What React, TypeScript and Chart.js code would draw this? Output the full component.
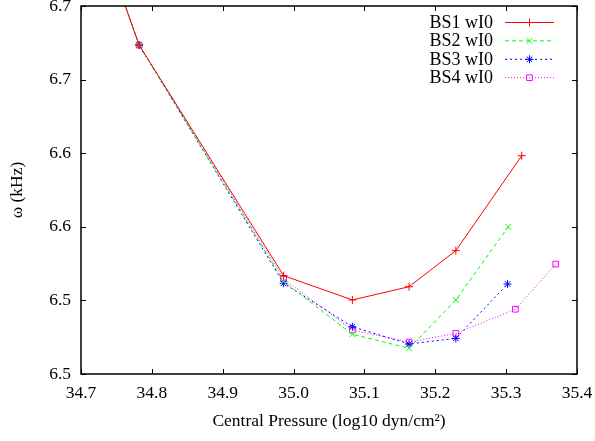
import React, { useEffect, useRef } from 'react';
import { Chart, registerables } from 'chart.js';
Chart.register(...registerables);

const seriesNames = ['BS1 wI0', 'BS2 wI0', 'BS3 wI0', 'BS4 wI0'];
const seriesColors = ['#ff0000', '#00ff00', '#0000ff', '#ff00ff'];

const bs1X = [34.75, 34.782, 34.986, 35.083, 35.163, 35.229, 35.322];
const bs1Y = [6.717, 6.6735, 6.5168, 6.5003, 6.5093, 6.5338, 6.5983];
const bs2X = [34.75, 34.782, 34.986, 35.083, 35.163, 35.229, 35.303];
const bs2Y = [6.717, 6.6735, 6.5128, 6.477, 6.4675, 6.5003, 6.550];
const bs3X = [34.75, 34.782, 34.986, 35.083, 35.163, 35.229, 35.302];
const bs3Y = [6.717, 6.6735, 6.5116, 6.4821, 6.4704, 6.4742, 6.5111];
const bs4X = [34.75, 34.782, 34.986, 35.083, 35.163, 35.229, 35.313, 35.370];
const bs4Y = [6.717, 6.6735, 6.5145, 6.4799, 6.4717, 6.4776, 6.494, 6.5247];

const xTickValues = [34.7, 34.8, 34.9, 35.0, 35.1, 35.2, 35.3, 35.4];
const xTickLabels = ['34.7', '34.8', '34.9', '35.0', '35.1', '35.2', '35.3', '35.4'];
const yTickValues = [6.45, 6.5, 6.55, 6.6, 6.65, 6.7];
const yTickLabels = ['6.5', '6.5', '6.6', '6.6', '6.7', '6.7'];

const xTitle = 'Central Pressure (log10 dyn/cm\u00B2)';
const yTitle = '\u03C9 (kHz)';

const FONT = '"Liberation Serif", "Times New Roman", serif';

const pointStyles = ['cross', 'crossRot', 'star', 'rect'];
const dashes: number[][] = [[], [4, 3], [2, 3], [1, 2]];

function toPts(xs: number[], ys: number[]) {
  return xs.map((x, i) => ({ x, y: ys[i] }));
}

function drawMarker(ctx: CanvasRenderingContext2D, style: string, x: number, y: number, r: number) {
  ctx.beginPath();
  if (style === 'cross' || style === 'star') {
    ctx.moveTo(x - r, y); ctx.lineTo(x + r, y);
    ctx.moveTo(x, y - r); ctx.lineTo(x, y + r);
  }
  if (style === 'crossRot' || style === 'star') {
    const d = r * Math.SQRT1_2;
    ctx.moveTo(x - d, y - d); ctx.lineTo(x + d, y + d);
    ctx.moveTo(x - d, y + d); ctx.lineTo(x + d, y - d);
  }
  if (style === 'rect') {
    const s = r * Math.SQRT1_2;
    ctx.rect(x - s, y - s, 2 * s, 2 * s);
  }
  ctx.stroke();
}

const framePlugin = {
  id: 'frame',
  afterDatasetsDraw(chart: any) {
    const { ctx, chartArea } = chart;
    const { left, right, top, bottom } = chartArea;
    const xs = chart.scales.x;
    const ys = chart.scales.y;
    ctx.save();
    ctx.strokeStyle = '#000';
    ctx.lineWidth = 1;
    ctx.setLineDash([]);
    const tl = 5;
    ctx.beginPath();
    xTickValues.forEach((v) => {
      const px = Math.round(xs.getPixelForValue(v)) + 0.5;
      ctx.moveTo(px, bottom); ctx.lineTo(px, bottom - tl);
      ctx.moveTo(px, top); ctx.lineTo(px, top + tl);
    });
    yTickValues.forEach((v) => {
      const py = Math.round(ys.getPixelForValue(v)) + 0.5;
      ctx.moveTo(left, py); ctx.lineTo(left + tl, py);
      ctx.moveTo(right, py); ctx.lineTo(right - tl, py);
    });
    ctx.stroke();
    ctx.lineWidth = 1.5;
    ctx.strokeRect(left, top, right - left, bottom - top);

    // legend
    ctx.font = '18px ' + FONT;
    ctx.textAlign = 'right';
    ctx.textBaseline = 'middle';
    const tx = right - 84;
    const lx0 = right - 72;
    const lx1 = right - 23;
    seriesNames.forEach((name, i) => {
      const y = top + 16 + i * 18.4;
      ctx.fillStyle = '#000';
      ctx.fillText(name, tx, y + 1);
      ctx.strokeStyle = seriesColors[i];
      ctx.lineWidth = 1;
      ctx.setLineDash(dashes[i]);
      ctx.beginPath();
      ctx.moveTo(lx0, y + 0.5); ctx.lineTo(lx1, y + 0.5);
      ctx.stroke();
      ctx.setLineDash([]);
      drawMarker(ctx, pointStyles[i], (lx0 + lx1) / 2, y + 0.5, 4);
    });
    ctx.restore();
  },
};

export default function App() {
  const ref = useRef<HTMLCanvasElement>(null);
  useEffect(() => {
    if (!ref.current) return;
    Chart.defaults.font.family = FONT;
    Chart.defaults.color = '#000';
    const allX = [bs1X, bs2X, bs3X, bs4X];
    const allY = [bs1Y, bs2Y, bs3Y, bs4Y];
    const chart = new Chart(ref.current, {
      type: 'line',
      data: {
        datasets: seriesNames.map((name, i) => ({
          label: name,
          data: toPts(allX[i], allY[i]),
          borderColor: seriesColors[i],
          backgroundColor: 'rgba(0,0,0,0)',
          pointBorderColor: seriesColors[i],
          pointBackgroundColor: 'rgba(0,0,0,0)',
          borderWidth: 1,
          borderDash: dashes[i],
          pointStyle: pointStyles[i] as any,
          pointRadius: 4,
          pointBorderWidth: 1,
          tension: 0,
          fill: false,
        })),
      },
      options: {
        animation: false,
        responsive: false,
        events: [],
        layout: { padding: { top: 6, right: 18, left: 0, bottom: 0 } },
        plugins: { legend: { display: false }, tooltip: { enabled: false } },
        scales: {
          x: {
            type: 'linear',
            min: 34.7,
            max: 35.4,
            grid: { display: false, drawTicks: false },
            border: { display: false },
            afterBuildTicks: (s: any) => { s.ticks = xTickValues.map((v) => ({ value: v })); },
            afterFit: (s: any) => { s.height = 67; s.paddingLeft = 0; s.paddingRight = 0; },
            ticks: {
              autoSkip: false,
              maxRotation: 0,
              padding: 9,
              font: { size: 17.5, family: FONT },
              callback: (_v: any, i: number) => xTickLabels[i],
            },
            title: {
              display: true,
              text: xTitle,
              font: { size: 17.5, family: FONT },
              padding: { top: 0, bottom: 9 },
            },
          },
          y: {
            type: 'linear',
            min: 6.45,
            max: 6.7,
            grid: { display: false, drawTicks: false },
            border: { display: false },
            afterBuildTicks: (s: any) => { s.ticks = yTickValues.map((v) => ({ value: v })); },
            afterFit: (s: any) => { s.width = 81; s.paddingTop = 0; s.paddingBottom = 0; },
            ticks: {
              autoSkip: false,
              padding: 10,
              font: { size: 17.5, family: FONT },
              callback: (_v: any, i: number) => yTickLabels[i],
            },
            title: {
              display: true,
              text: yTitle,
              font: { size: 17.5, family: FONT },
              padding: { top: 7, bottom: 0 },
            },
          },
        },
      },
      plugins: [framePlugin],
    });
    return () => chart.destroy();
  }, []);
  return (
    <canvas
      ref={ref}
      width={595}
      height={441}
      style={{ position: 'fixed', left: 0, top: 0, display: 'block', background: '#fff' }}
    />
  );
}
